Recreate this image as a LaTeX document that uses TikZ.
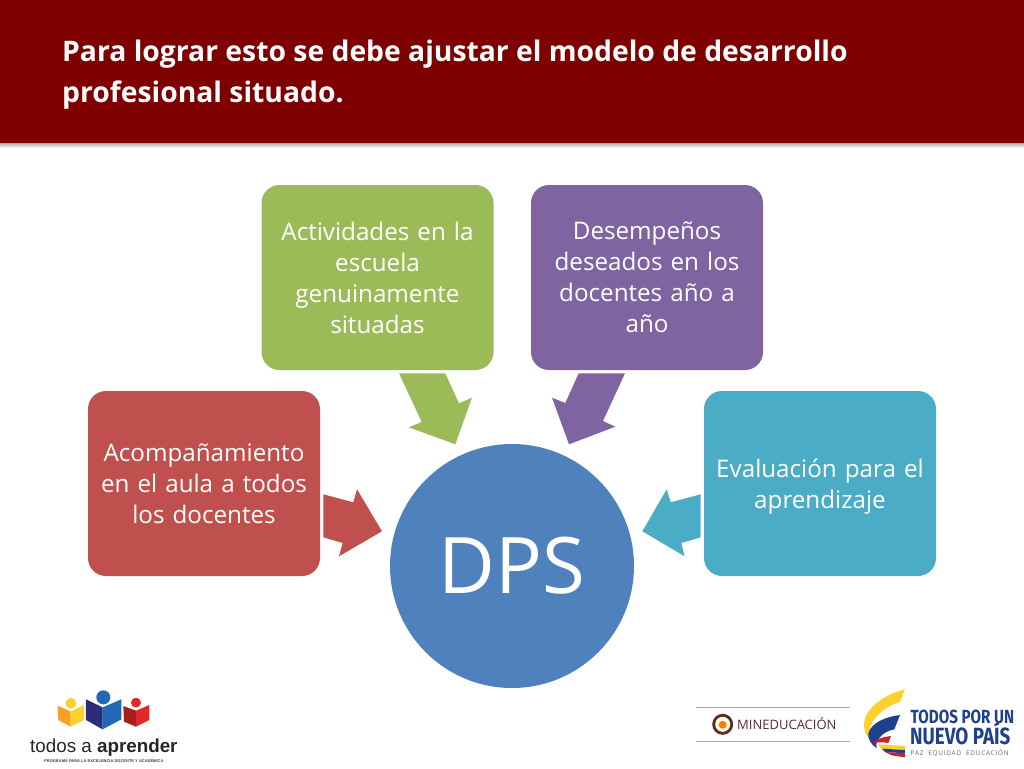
\documentclass[tikz,border=0pt]{standalone}
\usepackage{fontspec}
\setmainfont{Open Sans}
\newfontfamily\arialf{Liberation Sans}
\newfontfamily\fira{Fira Sans}
\definecolor{barred}{HTML}{7F0000}
\definecolor{cblue}{HTML}{4F81BD}
\definecolor{cred}{HTML}{C0504D}
\definecolor{cgreen}{HTML}{9BBB59}
\definecolor{cpurple}{HTML}{8064A2}
\definecolor{cteal}{HTML}{4BACC6}
\definecolor{npblue}{HTML}{1F3F8F}
\definecolor{npred}{HTML}{C8202F}
\definecolor{brownm}{HTML}{5E2B2B}
\definecolor{lgorange}{HTML}{F7A023}
\definecolor{lgyellow}{HTML}{FFCF2B}
\definecolor{lgnavy}{HTML}{2E2A7C}
\definecolor{lgblue}{HTML}{2168B5}
\definecolor{lgdark}{HTML}{A51D1D}
\definecolor{lgred}{HTML}{E02A2A}
\tikzset{
  box/.style={rounded corners=18pt,minimum width=232pt,minimum height=185pt,text width=228pt,align=center,text=white,font=\fontsize{24.2}{31}\selectfont,inner sep=0pt},
  titletext/.style={anchor=base west,inner sep=0pt,text=white,font=\bfseries\fontsize{28.3}{40}\selectfont},
  logotext/.style={inner sep=0pt,anchor=base west}
}
\begin{document}
\begin{tikzpicture}[x=1pt,y=-1pt]
\useasboundingbox (0,0) rectangle (1024,768);
\fill[white] (0,0) rectangle (1024,768);
% header
\shade[top color=black!40,bottom color=white] (0,142) rectangle (1024,148);
\fill[barred] (0,0) rectangle (1024,142.5);
\node[titletext] (t1) at (62,62) {Para lograr esto se debe ajustar el modelo de desarrollo};
\node[titletext] (t2) at (62,102) {profesional situado.};
% boxes
\node[box,fill=cred] (acomp) at (204,483.5) {Acompañamiento\\en el aula a todos\\los docentes};
\node[box,fill=cgreen] (activ) at (377.5,277.5) {Actividades en la\\escuela\\genuinamente\\situadas};
\node[box,fill=cpurple] (desem) at (647,277.5) {Desempeños\\deseados en los\\docentes año a\\año};
\node[box,fill=cteal] (eval) at (820,483.5) {\rule{0pt}{25pt}Evaluación para el\\aprendizaje};
\node[circle,fill=cblue,minimum size=244pt,inner sep=0pt,text=white,font=\fontsize{78}{90}\selectfont] (dps) at (512,566) {\raisebox{2pt}{DPS}};
% block arrows
\fill[cgreen] (399,373.3)--(445.3,373.3)--(459,403.3)--(472,397.7)--(455.3,444.3)--(408.7,427.3)--(421.7,422)--cycle;
\fill[cpurple] (578.7,373.3)--(625,373.3)--(603,421)--(615.3,426.7)--(569,444.3)--(552,397.7)--(565.3,403)--cycle;
\fill[cred] (323.3,494.3)--(353.3,502.3)--(357,489.3)--(382,531.3)--(339,556.3)--(342.7,543)--(323.3,537.3)--cycle;
\fill[cteal] (700.7,494.3)--(670.7,502.3)--(666.7,489.3)--(642.3,531.3)--(684.7,556.3)--(681.3,543)--(700.7,537.3)--cycle;
% logo left
\begin{scope}[shift={(0,670)},x=0.3333pt,y=-0.3333pt]
\fill[lgorange] (173,107)--(212,124)--(212,170)--(175,150)--cycle;
\fill[lgyellow] (212,124)--(252,105)--(252,150)--(212,170)--cycle;
\fill[lgyellow] (213,100) circle[radius=16];
\fill[lgnavy] (258,88)--(308,112)--(308,178)--(258,150)--cycle;
\fill[lgblue] (308,112)--(364,88)--(364,148)--(308,178)--cycle;
\fill[lgblue] (310,82) circle[radius=21];
\fill[lgdark] (370,108)--(408,122)--(408,170)--(372,155)--cycle;
\fill[lgred] (408,122)--(448,105)--(448,150)--(408,170)--cycle;
\fill[lgred] (408,98) circle[radius=15];
\end{scope}
\node[logotext,font=\arialf\fontsize{18.8}{22}\selectfont,text=black!85] (tap) at (30,752) {todos a \textbf{aprender}};
\node[logotext,font=\arialf\bfseries\fontsize{4}{5}\selectfont,text=black!75] (prog) at (44,762) {PROGRAMA PARA LA EXCELENCIA DOCENTE Y ACADÉMICA};
% mineducacion
\draw[black!35,line width=.7pt] (696,707.3)--(850,707.3) (696,741.7)--(850,741.7);
\fill[brownm] (722.7,724.3) circle[radius=10.5];
\fill[white!85!yellow] (722.7,724.3) circle[radius=7.5];
\fill[orange!70!brown] (722.7,724.8) circle[radius=4];
\node[logotext,font=\fontsize{13}{16}\selectfont,text=brownm] (min) at (737,729) {MINEDUCACIÓN};
% nuevo pais logo
\begin{scope}[shift={(855,680)},x=0.3333pt,y=-0.3333pt]
\fill[lgyellow] (150,28) .. controls (80,45) and (30,90) .. (27,130) .. controls (26,155) and (35,172) .. (50,182) .. controls (42,165) and (42,150) .. (48,135) .. controls (60,105) and (95,78) .. (135,65) -- cycle;
\fill[npblue] (135,105) .. controls (90,110) and (48,130) .. (40,160) .. controls (38,178) and (48,192) .. (65,205) .. controls (58,185) and (80,155) .. (118,148) -- cycle;
\fill[npred] (108,168) .. controls (85,170) and (62,178) .. (52,190) .. controls (68,186) and (85,186) .. (100,189) -- cycle;
\fill[lgyellow] (68,193) -- (150,198) -- (150,210) -- (80,206) -- cycle;
\fill[npblue] (80,206) -- (150,210) -- (150,220) -- (90,216) -- cycle;
\fill[npred] (90,216) -- (150,220) -- (150,232) -- (110,226) -- cycle;
\end{scope}
\node[logotext,font=\fira\bfseries\fontsize{19}{20}\selectfont,text=npblue] (np1) at (910.5,723) {\scalebox{.8}[1]{TODOS POR UN}};
\node[logotext,font=\fira\bfseries\fontsize{23.5}{24}\selectfont,text=npblue] (np2) at (910,744) {\scalebox{.8}[1]{NUEVO PAÍS}};
\node[logotext,font=\fontsize{6.4}{8}\selectfont,text=black!60] (np3) at (910.5,755) {\addfontfeature{LetterSpace=12}PAZ\ \ EQUIDAD\ \ EDUCACIÓN};
\end{tikzpicture}
\end{document}
